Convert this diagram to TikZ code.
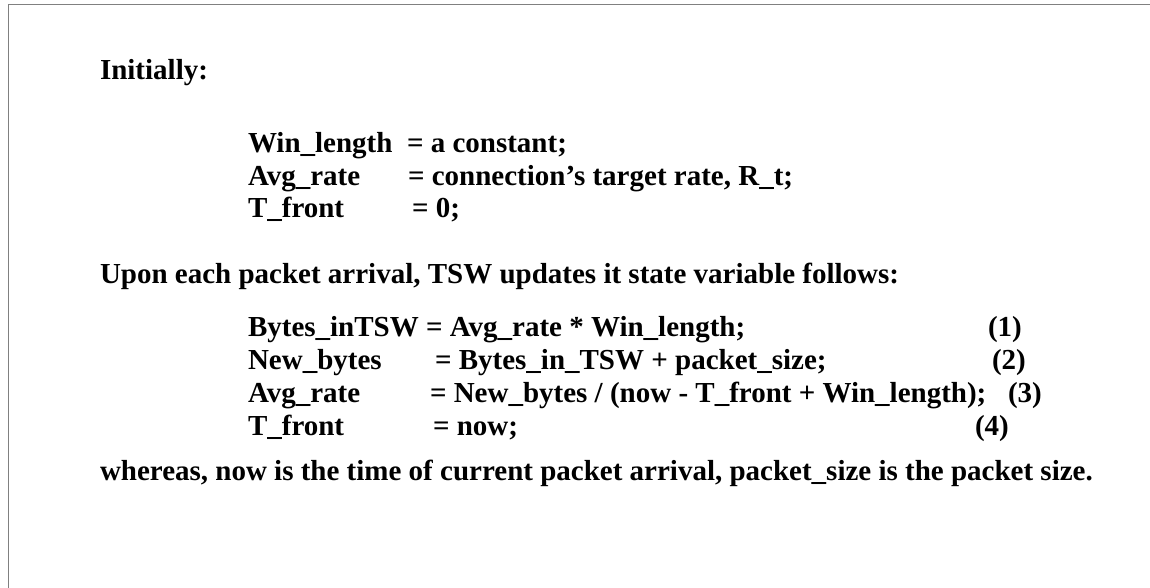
\documentclass[tikz,border=0pt]{standalone}
\usepackage{fontspec}
\setmainfont{Liberation Serif}
\begin{document}
\begin{tikzpicture}[x=1pt,y=-1pt,
  txt/.style={anchor=base west, inner sep=0pt, outer sep=0pt,
    font=\fontsize{29}{34}\selectfont\bfseries},
  frame/.style={draw=black!50, line width=1.6pt}]
\useasboundingbox (0,0) rectangle (1150,587);
% frame around the panel (left and top edges inside the page)
\draw[frame] (8.5,600) -- (8.5,4.5) -- (1160,4.5);

% initial values
\node[txt] (init) at (100,79) {Initially:};
\node[txt] (wl)   at (248,152) {Win\_length};
\node[txt] (wlv)  at (407,152) {= a constant;};
\node[txt] (ar)   at (248,185) {Avg\_rate};
\node[txt] (arv)  at (408,185) {= connection’s target rate, R\_t;};
\node[txt] (tf)   at (248,217) {T\_front};
\node[txt] (tfv)  at (412,217) {= 0;};

% update rules
\node[txt] (upon) at (100,283) {Upon each packet arrival, TSW updates it state variable follows:};
\node[txt] (e1)   at (248,336) {Bytes\_inTSW = Avg\_rate * Win\_length;};
\node[txt] (n1)   at (988,336) {(1)};
\node[txt] (e2a)  at (248,369) {New\_bytes};
\node[txt] (e2b)  at (435,369) {= Bytes\_in\_TSW + packet\_size;};
\node[txt] (n2)   at (992,369) {(2)};
\node[txt] (e3a)  at (248,402) {Avg\_rate};
\node[txt] (e3b)  at (430,402) {= New\_bytes / (now - T\_front + Win\_length);};
\node[txt] (n3)   at (1008,402) {(3)};
\node[txt] (e4a)  at (248,435) {T\_front};
\node[txt] (e4b)  at (433,435) {= now;};
\node[txt] (n4)   at (975,435) {(4)};

% closing remark
\node[txt] (note) at (100,480) {whereas, now is the time of current packet arrival, packet\_size is the packet size.};
\end{tikzpicture}
\end{document}
